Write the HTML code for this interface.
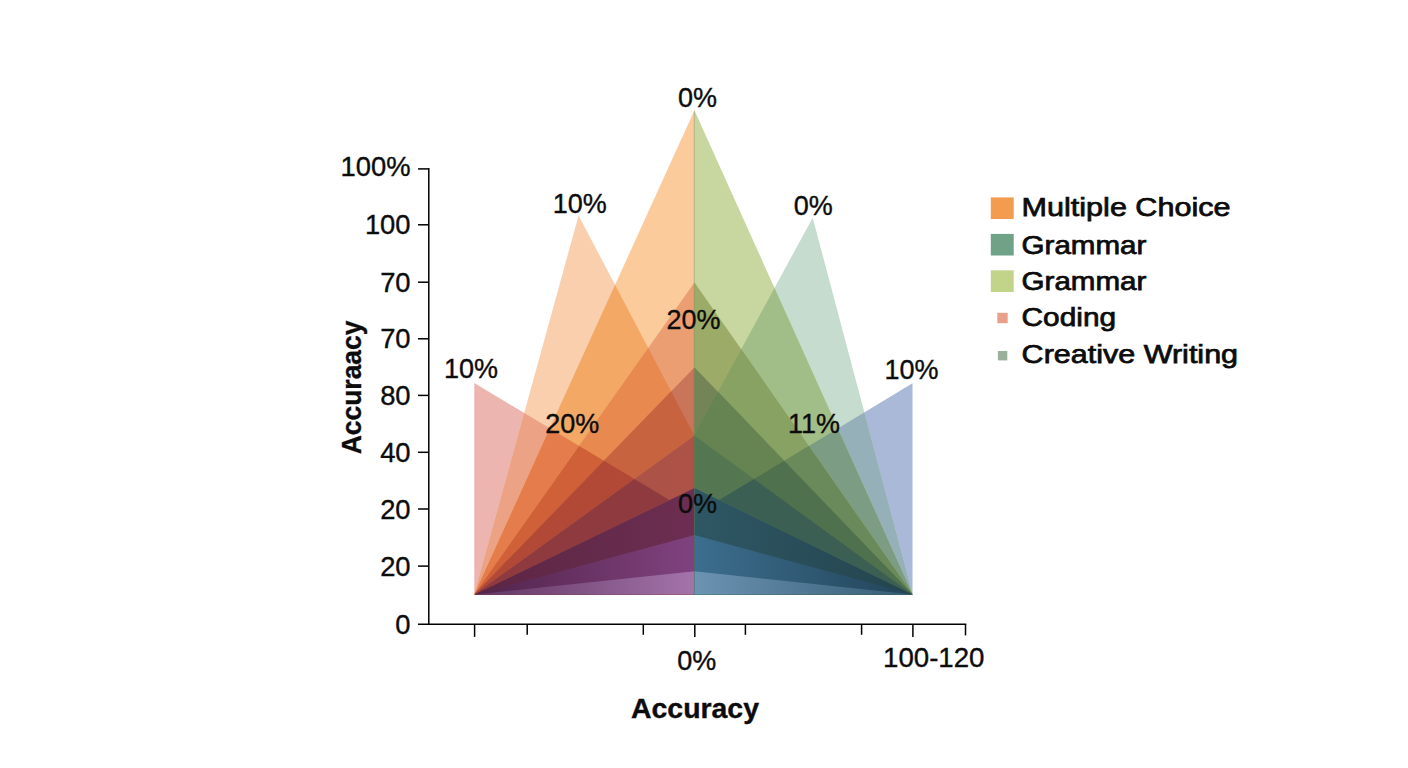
<!DOCTYPE html>
<html><head><meta charset="utf-8"><title>Accuracy chart</title>
<style>
html,body{margin:0;padding:0;background:#fff;}
body{width:1408px;height:768px;overflow:hidden;}
svg{display:block;}
text{font-family:"Liberation Sans",Arial,sans-serif;fill:#0c0c0c;stroke:#0c0c0c;stroke-width:0.35px;}
.lg{stroke-width:0.75px;}
</style></head>
<body>
<svg width="1408" height="768" viewBox="0 0 1408 768">
<rect width="1408" height="768" fill="#ffffff"/>
<defs>
<clipPath id="nl0"><polygon points="474.2,594.5 694.6,110 694.6,594.5"/></clipPath>
<clipPath id="nr0"><polygon points="912.7,594.5 694.3,110 694.3,594.5"/></clipPath>
<clipPath id="nl1"><polygon points="474.2,594.5 694.6,282.2 694.6,594.5"/></clipPath>
<clipPath id="nr1"><polygon points="912.7,594.5 694.3,282.2 694.3,594.5"/></clipPath>
<clipPath id="nl2"><polygon points="474.2,594.5 694.6,367.2 694.6,594.5"/></clipPath>
<clipPath id="nr2"><polygon points="912.7,594.5 694.3,367.2 694.3,594.5"/></clipPath>
<clipPath id="nl3"><polygon points="474.2,594.5 694.6,435.6 694.6,594.5"/></clipPath>
<clipPath id="nr3"><polygon points="912.7,594.5 694.3,435.6 694.3,594.5"/></clipPath>
<clipPath id="nl4"><polygon points="474.2,594.5 694.6,488 694.6,594.5"/></clipPath>
<clipPath id="nr4"><polygon points="912.7,594.5 694.3,488 694.3,594.5"/></clipPath>
<clipPath id="nl5"><polygon points="474.2,594.5 694.6,535 694.6,594.5"/></clipPath>
<clipPath id="nr5"><polygon points="912.7,594.5 694.3,535 694.3,594.5"/></clipPath>
<clipPath id="nl6"><polygon points="474.2,594.5 694.6,571.3 694.6,594.5"/></clipPath>
<clipPath id="nr6"><polygon points="912.7,594.5 694.3,571.3 694.3,594.5"/></clipPath>
<clipPath id="cpl"><polygon points="474.2,594.5 578.6,215.5 694.3,435.6"/></clipPath>
<clipPath id="cpr"><polygon points="912.7,594.5 812.7,217.7 694.3,435.6"/></clipPath>
<linearGradient id="gl4" gradientUnits="userSpaceOnUse" x1="474.2" y1="0" x2="694.3" y2="0"><stop offset="0" stop-color="#5c2642"/><stop offset="1" stop-color="#6c2e52"/></linearGradient>
<linearGradient id="gl5" gradientUnits="userSpaceOnUse" x1="474.2" y1="0" x2="694.3" y2="0"><stop offset="0" stop-color="#52244a"/><stop offset="1" stop-color="#80427f"/></linearGradient>
<linearGradient id="gl6" gradientUnits="userSpaceOnUse" x1="474.2" y1="0" x2="694.3" y2="0"><stop offset="0" stop-color="#603462"/><stop offset="1" stop-color="#a374aa"/></linearGradient>
<linearGradient id="gr4" gradientUnits="userSpaceOnUse" x1="912.7" y1="0" x2="694.3" y2="0"><stop offset="0" stop-color="#24444e"/><stop offset="1" stop-color="#2e5764"/></linearGradient>
<linearGradient id="gr5" gradientUnits="userSpaceOnUse" x1="912.7" y1="0" x2="694.3" y2="0"><stop offset="0" stop-color="#224458"/><stop offset="1" stop-color="#3d6e8f"/></linearGradient>
<linearGradient id="gr6" gradientUnits="userSpaceOnUse" x1="912.7" y1="0" x2="694.3" y2="0"><stop offset="0" stop-color="#345c76"/><stop offset="1" stop-color="#6c94b2"/></linearGradient>
</defs>
<g id="fan">
<polygon points="474.3,383 474.3,594.5 474.2,594.5 669.4,500.1" fill="#ecb5b0"/>
<polygon points="912.5,383.3 912.5,594.5 912.7,594.5 719.0,500.1" fill="#aab9d7"/>
<polygon points="474.2,594.5 578.6,215.5 694.3,435.6" fill="#f9cfae"/>
<polygon points="912.7,594.5 812.7,217.7 694.3,435.6" fill="#c5dccf"/>
<polygon points="474.3,383 474.3,594.5 474.2,594.5 669.4,500.1" fill="#eca284" clip-path="url(#cpl)"/>
<polygon points="912.5,383.3 912.5,594.5 912.7,594.5 719.0,500.1" fill="#96b0ba" clip-path="url(#cpr)"/>
<polygon points="474.2,594.5 694.6,110 694.6,594.5" fill="#fbcb9b"/>
<g clip-path="url(#nl0)"><polygon points="474.2,594.5 578.6,215.5 694.3,435.6" fill="#f3a866"/><g clip-path="url(#cpl)"><polygon points="474.3,383 474.3,594.5 474.2,594.5 669.4,500.1" fill="#e47c4c"/></g></g>
<polygon points="474.2,594.5 694.6,282.2 694.6,594.5" fill="#ea9e72"/>
<g clip-path="url(#nl1)"><polygon points="474.2,594.5 578.6,215.5 694.3,435.6" fill="#e88950"/><g clip-path="url(#cpl)"><polygon points="474.3,383 474.3,594.5 474.2,594.5 669.4,500.1" fill="#d06038"/></g></g>
<polygon points="474.2,594.5 694.6,367.2 694.6,594.5" fill="#ca745a"/>
<g clip-path="url(#nl2)"><polygon points="474.2,594.5 578.6,215.5 694.3,435.6" fill="#c86340"/><g clip-path="url(#cpl)"><polygon points="474.3,383 474.3,594.5 474.2,594.5 669.4,500.1" fill="#b24836"/></g></g>
<polygon points="474.2,594.5 694.6,435.6 694.6,594.5" fill="#ac5246"/>
<g clip-path="url(#nl3)"><polygon points="474.3,383 474.3,594.5 474.2,594.5 669.4,500.1" fill="#8e3a3e"/></g>
<polygon points="474.2,594.5 694.6,488 694.6,594.5" fill="url(#gl4)"/>
<polygon points="474.2,594.5 694.6,535 694.6,594.5" fill="url(#gl5)"/>
<polygon points="474.2,594.5 694.6,571.3 694.6,594.5" fill="url(#gl6)"/>
<polygon points="912.7,594.5 694.3,110 694.3,594.5" fill="#c8d6a0"/>
<g clip-path="url(#nr0)"><polygon points="912.7,594.5 812.7,217.7 694.3,435.6" fill="#a2be88"/><g clip-path="url(#cpr)"><polygon points="912.5,383.3 912.5,594.5 912.7,594.5 719.0,500.1" fill="#7c9d84"/></g></g>
<polygon points="912.7,594.5 694.3,282.2 694.3,594.5" fill="#9dab69"/>
<g clip-path="url(#nr1)"><polygon points="912.7,594.5 812.7,217.7 694.3,435.6" fill="#87a262"/><g clip-path="url(#cpr)"><polygon points="912.5,383.3 912.5,594.5 912.7,594.5 719.0,500.1" fill="#6a8a5c"/></g></g>
<polygon points="912.7,594.5 694.3,367.2 694.3,594.5" fill="#738557"/>
<g clip-path="url(#nr2)"><polygon points="912.7,594.5 812.7,217.7 694.3,435.6" fill="#658452"/><g clip-path="url(#cpr)"><polygon points="912.5,383.3 912.5,594.5 912.7,594.5 719.0,500.1" fill="#50714e"/></g></g>
<polygon points="912.7,594.5 694.3,435.6 694.3,594.5" fill="#547752"/>
<g clip-path="url(#nr3)"><polygon points="912.5,383.3 912.5,594.5 912.7,594.5 719.0,500.1" fill="#3c5f54"/></g>
<polygon points="912.7,594.5 694.3,488 694.3,594.5" fill="url(#gr4)"/>
<polygon points="912.7,594.5 694.3,535 694.3,594.5" fill="url(#gr5)"/>
<polygon points="912.7,594.5 694.3,571.3 694.3,594.5" fill="url(#gr6)"/>
<line x1="694.3" y1="111" x2="694.3" y2="594.5" stroke="#6b6b3a" stroke-opacity="0.35" stroke-width="1"/>
</g>
<g stroke="#000" stroke-width="1.5" fill="none">
<line x1="428.8" y1="168.1" x2="428.8" y2="625.05"/>
<line x1="418" y1="624.3" x2="966.3" y2="624.3"/>
<line x1="418" y1="168.9" x2="428.8" y2="168.9"/>
<line x1="418" y1="224.8" x2="428.8" y2="224.8"/>
<line x1="418" y1="282.2" x2="428.8" y2="282.2"/>
<line x1="418" y1="338.8" x2="428.8" y2="338.8"/>
<line x1="418" y1="395.4" x2="428.8" y2="395.4"/>
<line x1="418" y1="452.3" x2="428.8" y2="452.3"/>
<line x1="418" y1="509" x2="428.8" y2="509"/>
<line x1="418" y1="566.1" x2="428.8" y2="566.1"/>
<line x1="474.6" y1="624.3" x2="474.6" y2="636.9"/>
<line x1="694.8" y1="624.3" x2="694.8" y2="636.9"/>
<line x1="912.9" y1="624.3" x2="912.9" y2="636.9"/>
<line x1="965.5" y1="624.3" x2="965.5" y2="635.4"/>
<line x1="527.2" y1="624.3" x2="527.2" y2="634.8"/>
<line x1="643.3" y1="624.3" x2="643.3" y2="634.8"/>
<line x1="745.4" y1="624.3" x2="745.4" y2="634.8"/>
<line x1="861.6" y1="624.3" x2="861.6" y2="634.8"/>
</g>
<rect x="990.8" y="197.4" width="22.9" height="21.6" fill="#f39c4f"/>
<rect x="990.8" y="233.9" width="22.9" height="21.6" fill="#6fa287"/>
<rect x="990.8" y="270.3" width="22.9" height="21.7" fill="#c2d48a"/>
<rect x="997.3" y="312.8" width="10.4" height="10.4" fill="#e9a08a"/>
<rect x="997.9" y="351" width="9.4" height="9.4" fill="#9ab09a"/>
<g id="labels">
<text x="410.6" y="176.1" text-anchor="end" font-size="27.4" font-weight="normal" >100%</text>
<text x="410.6" y="234.3" text-anchor="end" font-size="27.4" font-weight="normal" >100</text>
<text x="410.6" y="291.7" text-anchor="end" font-size="27.4" font-weight="normal" >70</text>
<text x="410.6" y="348.3" text-anchor="end" font-size="27.4" font-weight="normal" >70</text>
<text x="410.6" y="404.9" text-anchor="end" font-size="27.4" font-weight="normal" >80</text>
<text x="410.6" y="461.8" text-anchor="end" font-size="27.4" font-weight="normal" >40</text>
<text x="410.6" y="518.5" text-anchor="end" font-size="27.4" font-weight="normal" >20</text>
<text x="410.6" y="575.6" text-anchor="end" font-size="27.4" font-weight="normal" >20</text>
<text x="410.6" y="633.6" text-anchor="end" font-size="27.4" font-weight="normal" >0</text>
<text x="697.4" y="107.3" text-anchor="middle" font-size="27" font-weight="normal" >0%</text>
<text x="579.8" y="212.5" text-anchor="middle" font-size="27" font-weight="normal" >10%</text>
<text x="813.2" y="214.8" text-anchor="middle" font-size="27" font-weight="normal" >0%</text>
<text x="693.6" y="329.3" text-anchor="middle" font-size="27" font-weight="normal" >20%</text>
<text x="470.9" y="378.2" text-anchor="middle" font-size="27" font-weight="normal" >10%</text>
<text x="911.5" y="379.4" text-anchor="middle" font-size="27" font-weight="normal" >10%</text>
<text x="572.2" y="433.4" text-anchor="middle" font-size="27" font-weight="normal" >20%</text>
<text x="814.1" y="433.4" text-anchor="middle" font-size="27" font-weight="normal" >11%</text>
<text x="697.5" y="512.6" text-anchor="middle" font-size="27" font-weight="normal" >0%</text>
<text x="696.8" y="669.6" text-anchor="middle" font-size="27" font-weight="normal" >0%</text>
<text x="883" y="667.3" font-size="27" textLength="101.5" lengthAdjust="spacingAndGlyphs">100-120</text>
<text x="631" y="718" font-size="27" font-weight="bold" stroke="none" textLength="128" lengthAdjust="spacingAndGlyphs">Accuracy</text>
<text transform="translate(361,454.3) rotate(-90)" font-size="27.6" font-weight="bold" stroke="none" textLength="133.8" lengthAdjust="spacingAndGlyphs">Accuraacy</text>
<text x="1021.6" y="216.4" font-size="26" class="lg" textLength="208.9" lengthAdjust="spacingAndGlyphs">Multiple Choice</text>
<text x="1021.6" y="253.7" font-size="26" class="lg" textLength="124.8" lengthAdjust="spacingAndGlyphs">Grammar</text>
<text x="1021.6" y="290.1" font-size="26" class="lg" textLength="124.8" lengthAdjust="spacingAndGlyphs">Grammar</text>
<text x="1021.6" y="325.8" font-size="26" class="lg" textLength="94.5" lengthAdjust="spacingAndGlyphs">Coding</text>
<text x="1021.6" y="363" font-size="26" class="lg" textLength="216.5" lengthAdjust="spacingAndGlyphs">Creative Writing</text>
</g>
</svg>
</body></html>
